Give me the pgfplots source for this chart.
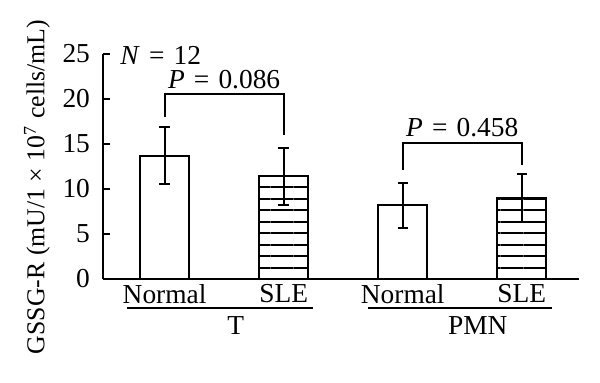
\documentclass[border=0pt]{standalone}
\usepackage{pgfplots}
\pgfplotsset{compat=1.18}
\usepackage{fontspec}
\setmainfont{Liberation Serif}
\usetikzlibrary{patterns.meta}
\newcommand{\fs}{\fontsize{13.7}{16}\selectfont}
\begin{document}
\begin{tikzpicture}
\begin{axis}[
  scale only axis,
  width=238pt, height=112.5pt,
  xmin=-0.517, xmax=3.48,
  ymin=0, ymax=25,
  axis lines*=left,
  axis line style={line width=1pt},
  ytick={0,5,...,25},
  tick align=inside,
  major tick length=3.5pt,
  ytick style={line width=1pt, black},
  xtick={0,1,2,3},
  xticklabels={Normal,SLE,Normal,SLE},
  xtick style={draw=none},
  /pgf/number format/assume math mode=true,
  tick label style={font=\fs},
  yticklabel style={xshift=-3pt},
  xticklabel style={yshift=4.5pt},
  ylabel={GSSG-R (mU/1 × 10\textsuperscript{7} cells/mL)},
  every axis y label/.style={at={(axis description cs:-0.1387,0.409)}, rotate=90, anchor=center, font=\fontsize{12.9}{15}\selectfont},
  clip=false,
  ybar,
  bar width=24.5pt,
]
\addplot[bar shift=0pt, draw=black, line width=1pt, fill=white,
  error bars/.cd, y dir=both, y explicit,
  error bar style={line width=1pt},
  error mark options={mark size=2.6pt, line width=1pt, rotate=90}]
  coordinates {(0,13.7) +- (0,3.2) (2,8.2) +- (0,2.5)};
\addplot[bar shift=0pt, draw=black, line width=1pt,
  pattern={Lines[angle=0, distance=5.75pt, line width=1pt]},
  error bars/.cd, y dir=both, y explicit,
  error bar style={line width=1pt},
  error mark options={mark size=2.6pt, line width=1pt, rotate=90}]
  coordinates {(1,11.4) +- (0,3.2) (3,9.0) +- (0,2.7)};
% brackets
\addplot[sharp plot, no marks, line width=1pt, black] coordinates {(0,18.0) (0,20.6) (1,20.6) (1,16.0)};
\addplot[sharp plot, no marks, line width=1pt, black] coordinates {(2,12.1) (2,15.1) (3,15.1) (3,12.7)};
% group lines
\addplot[sharp plot, no marks, line width=1pt, black] coordinates {(-0.317,-3.19) (1.246,-3.19)};
\addplot[sharp plot, no marks, line width=1pt, black] coordinates {(1.707,-3.19) (3.254,-3.19)};
\node[font=\fs] at (axis cs:0.597,-5.2) {T};
\node[font=\fs] at (axis cs:2.63,-5.2) {PMN};
\node[font=\fs, anchor=west, inner sep=0pt] at (axis cs:-0.374,24.8) {\textit{N}\,\,=\,\,12};
\node[font=\fs] at (axis cs:0.5,22.2) {\textit{P}\,\,=\,\,0.086};
\node[font=\fs] at (axis cs:2.5,16.8) {\textit{P}\,\,=\,\,0.458};
\end{axis}
\path[use as bounding box] (-51.5pt,-52pt) rectangle (248.5pt,139.5pt);
\end{tikzpicture}
\end{document}
